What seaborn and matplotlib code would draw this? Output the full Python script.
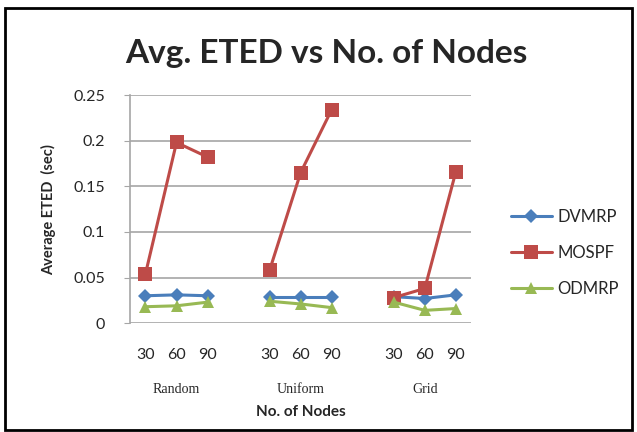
import matplotlib
matplotlib.use("Agg")
import matplotlib.pyplot as plt
import matplotlib.transforms as mtransforms
from matplotlib.lines import Line2D
import numpy as np
import pandas as pd
import seaborn as sns

# values
groups = ["Random", "Uniform", "Grid"]
nodes = [30, 60, 90]
protocols = ["DVMRP", "MOSPF", "ODMRP"]
dvmrp = [0.030, 0.031, 0.030, 0.029, 0.029, 0.029, 0.029, 0.027, 0.031]
mospf = [0.054, 0.198, 0.182, 0.058, 0.165, 0.234, 0.028, 0.038, 0.166]
odmrp = [0.018, 0.019, 0.023, 0.024, 0.021, 0.017, 0.023, 0.014, 0.016]
y_ticks = [0, 0.05, 0.1, 0.15, 0.2, 0.25]
y_tick_labels = ["0", "0.05", "0.1", "0.15", "0.2", "0.25"]

colors = {"DVMRP": "#4A7EBB", "MOSPF": "#BE4B48", "ODMRP": "#98B954"}
markers = {"DVMRP": "D", "MOSPF": "s", "ODMRP": "^"}
msize = {"D": 7, "s": 10, "^": 9}

rows = []
for name, vals in zip(protocols, [dvmrp, mospf, odmrp]):
    for gi, g in enumerate(groups):
        for ni, n in enumerate(nodes):
            rows.append({"Protocol": name, "Group": g, "Nodes": n,
                         "pos": gi * 4 + ni, "value": vals[gi * 3 + ni]})
df = pd.DataFrame(rows)

sns.set_style("white")
plt.rcParams["font.family"] = ["Lato", "DejaVu Sans"]

fig = plt.figure(figsize=(6.37, 4.32), dpi=100)
ax = fig.add_axes([0.204, 0.252, 0.536, 0.528])

sns.lineplot(data=df, x="pos", y="value", hue="Protocol", style="Protocol",
             units="Group", estimator=None, palette=colors, markers=markers,
             dashes=False, linewidth=2.2, markeredgewidth=0, ax=ax,
             legend=False)
for line in ax.lines:
    line.set_markersize(msize.get(line.get_marker(), 8))

ax.set_xlim(-0.5, 10.5)
ax.set_ylim(0, 0.25)
ax.set_yticks(y_ticks)
ax.set_yticklabels(y_tick_labels, fontsize=11.5)
ax.yaxis.grid(True, color="#A6A6A6", linewidth=1.2)
ax.set_axisbelow(True)

ticks = df.drop_duplicates("pos")
ax.set_xticks(ticks["pos"])
ax.set_xticklabels(ticks["Nodes"].astype(str), fontsize=11.5)
ax.tick_params(axis="x", length=0, pad=18)
ax.tick_params(axis="y", length=4, color="#A6A6A6", left=True, pad=14)

for s in ["top", "right", "bottom"]:
    ax.spines[s].set_visible(False)
ax.spines["left"].set_color("#A6A6A6")
ax.spines["left"].set_linewidth(1.2)

trans = mtransforms.blended_transform_factory(ax.transData, ax.transAxes)
for gi, g in enumerate(groups):
    ax.text(gi * 4 + 1, -0.29, g, transform=trans, ha="center", va="center",
            fontsize=10, family="Liberation Serif")

ax.set_xlabel("No. of Nodes", fontsize=11, fontweight="bold", labelpad=31)
ax.set_ylabel("Average ETED  (sec)", fontsize=10.5, fontweight="bold", labelpad=12)

fig.suptitle("Avg. ETED vs No. of Nodes", x=0.512, y=0.91, fontsize=24,
             fontweight="bold")

# legend
handles = [Line2D([], [], color=colors[p], marker=markers[p], linewidth=2.2,
                  markersize=msize[markers[p]], markeredgewidth=0)
           for p in protocols]
fig.legend(handles, protocols, loc="center left", bbox_to_anchor=(0.778, 0.415),
           frameon=False, fontsize=12, handlelength=2.5, labelspacing=1.2,
           handletextpad=0.3)

# outer border
border = plt.Rectangle((0.008, 0.004), 0.984, 0.978, transform=fig.transFigure,
                       fill=False, edgecolor="black", linewidth=2)
fig.patches.append(border)

fig.savefig("out.png", dpi=100)
